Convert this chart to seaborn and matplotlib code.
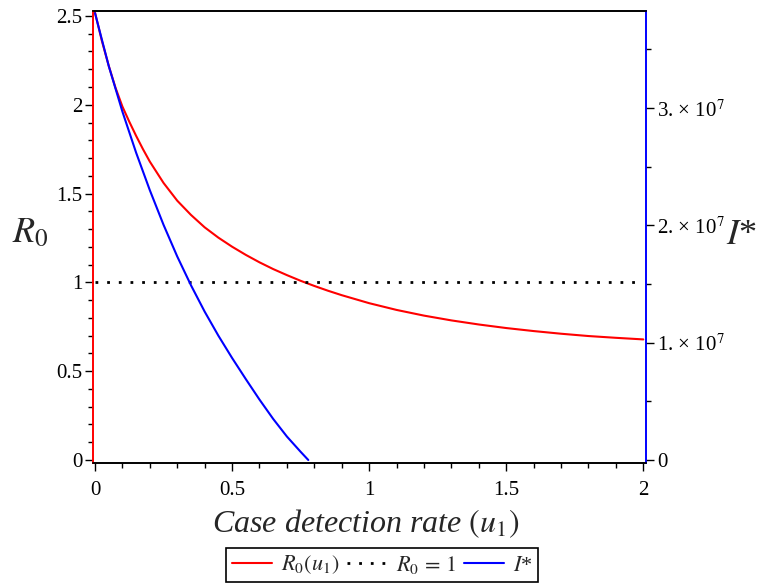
import numpy as np
import pandas as pd
import seaborn as sns
import matplotlib
matplotlib.use("Agg")
import matplotlib.pyplot as plt
from matplotlib.ticker import MultipleLocator, FixedLocator, FuncFormatter

# ---- data ----
u_r0 = [0.0, 0.025, 0.05, 0.075, 0.1, 0.125, 0.15, 0.175, 0.2, 0.25, 0.3, 0.35,
        0.4, 0.45, 0.5, 0.55, 0.6, 0.65, 0.7, 0.75, 0.8, 0.85, 0.9, 1.0, 1.1,
        1.2, 1.3, 1.4, 1.5, 1.6, 1.7, 1.8, 1.9, 2.0]
r0_vals = [2.52, 2.36, 2.22, 2.095, 1.99, 1.905, 1.825, 1.75, 1.68, 1.56, 1.46,
           1.38, 1.31, 1.252, 1.201, 1.155, 1.113, 1.075, 1.041, 1.009, 0.980,
           0.953, 0.928, 0.883, 0.845, 0.813, 0.786, 0.763, 0.743, 0.726,
           0.711, 0.698, 0.688, 0.679]

u_istar = [0.0, 0.05, 0.1, 0.15, 0.2, 0.25, 0.3, 0.35, 0.4, 0.45, 0.5, 0.55,
           0.6, 0.65, 0.7, 0.75, 0.778]
istar_vals = [3.81e7, 3.36e7, 2.97e7, 2.62e7, 2.30e7, 2.005e7, 1.735e7, 1.49e7,
              1.265e7, 1.06e7, 0.87e7, 0.69e7, 0.515e7, 0.35e7, 0.20e7,
              0.07e7, 0.0]

thresh_u = [0.0, 2.0]
thresh_r0 = [1.0, 1.0]

x_ticks = [0, 0.5, 1, 1.5, 2]
y_ticks = [0, 0.5, 1, 1.5, 2, 2.5]
y2_ticks = [0, 1e7, 2e7, 3e7]

df_r0 = pd.DataFrame({"u": u_r0, "R0": r0_vals})
df_i = pd.DataFrame({"u": u_istar, "I": istar_vals})
df_t = pd.DataFrame({"u": thresh_u, "R0": thresh_r0})

# ---- style ----
sns.set_style("ticks")
plt.rcParams["font.family"] = ["Liberation Serif", "DejaVu Serif"]
plt.rcParams["mathtext.fontset"] = "stix"

fig = plt.figure(figsize=(7.6, 5.87), dpi=100)
ax = fig.add_axes([93.3 / 760, 1 - 462.5 / 587, (646 - 93.3) / 760, (462.5 - 11) / 587])
ax2 = ax.twinx()

sns.lineplot(data=df_r0, x="u", y="R0", ax=ax, color="red", lw=1.5,
             label="r0")
sns.lineplot(data=df_t, x="u", y="R0", ax=ax, color="black", lw=2.0,
             linestyle=(0, (1, 3.2)), label="thr")
sns.lineplot(data=df_i, x="u", y="I", ax=ax2, color="blue", lw=1.5,
             label="i")

for a in (ax, ax2):
    lg = a.get_legend()
    if lg is not None:
        lg.remove()

ax.set_xlim(-0.0062, 2.0098)
ax.set_ylim(-0.014, 2.528)
ax2.set_ylim(-0.0213e7, 3.828e7)

ax.set_xlabel("")
ax.set_ylabel("")
ax2.set_ylabel("")

ax.xaxis.set_major_locator(FixedLocator(x_ticks))
ax.xaxis.set_minor_locator(MultipleLocator(0.1))
ax.yaxis.set_major_locator(FixedLocator(y_ticks))
ax.yaxis.set_minor_locator(MultipleLocator(0.1))
ax.xaxis.set_major_formatter(FuncFormatter(lambda v, p: f"{v:g}"))
ax.yaxis.set_major_formatter(FuncFormatter(lambda v, p: f"{v:g}"))

ax2.yaxis.set_major_locator(FixedLocator(y2_ticks))
ax2.yaxis.set_minor_locator(MultipleLocator(5e6))


def fmt_right(v, p):
    if v == 0:
        return "0"
    return f"{v / 1e7:.0f}. \u00d7 10" + r"$^{7}$"


ax2.yaxis.set_major_formatter(FuncFormatter(fmt_right))

for a in (ax, ax2):
    a.tick_params(which="major", direction="out", length=6, width=1, color="black",
                  labelsize=15, labelcolor="black", pad=2)
    a.tick_params(which="minor", direction="out", length=3.5, width=1, color="black")
ax.tick_params(axis="y", which="both", left=True, right=False)
ax.tick_params(axis="x", which="both", bottom=True, top=False, pad=7)
ax2.tick_params(axis="y", which="both", left=False, right=True)

for a in (ax, ax2):
    a.spines["left"].set_color("red")
    a.spines["right"].set_color("blue")
    a.spines["top"].set_color("black")
    a.spines["bottom"].set_color("black")
    for s in a.spines.values():
        s.set_linewidth(1.2)

fig.text(30 / 760, 1 - 234 / 587, r"$R_0$", fontsize=26, ha="center", va="center")
fig.text(741 / 760, 1 - 236 / 587, r"$I$*", fontsize=26, ha="center", va="center")
fig.text(366 / 760, 1 - 524 / 587, r"Case detection rate $\left(u_1\right)$",
         fontsize=23, fontstyle="italic", ha="center", va="center")

handles = ax.get_lines()[:2] + ax2.get_lines()[:1]
labels = [r"$R_0\left(u_1\right)$", r"$R_0\,{=}\,1$", r"$I$*"]
leg = fig.legend(handles, labels, loc="center",
                 bbox_to_anchor=(382 / 760, 1 - 565 / 587), ncol=3,
                 frameon=True, fancybox=False, edgecolor="black", framealpha=1,
                 fontsize=16, handlelength=1.8, columnspacing=0.35,
                 handletextpad=0.4, borderpad=0.25, borderaxespad=0)
leg.get_frame().set_linewidth(1.2)

fig.savefig("out.png", dpi=100)
